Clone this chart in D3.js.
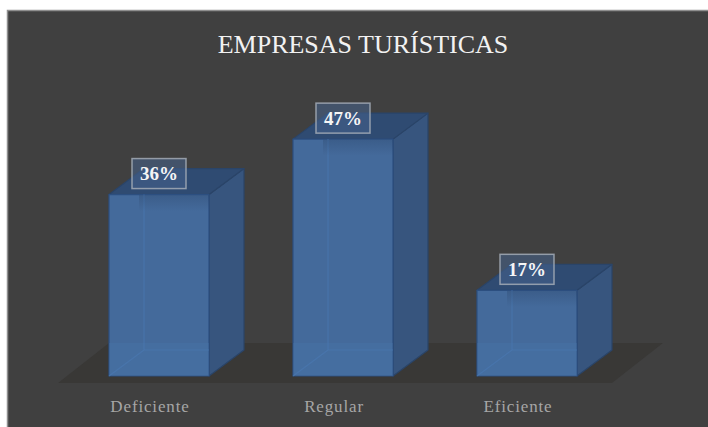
<!DOCTYPE html>
<html>
<head>
<meta charset="utf-8">
<script src="https://cdn.jsdelivr.net/npm/d3@7"></script>
<style>
  html, body { margin: 0; background: #fff; }
  svg { display: block; }
  .x.axis path, .x.axis line { display: none; }
  .x.axis text { font-family: "Liberation Serif", serif; font-size: 17px; fill: #a6a6a6; letter-spacing: .85px; }
</style>
</head>
<body>
<svg class="chart"></svg>
<script>
let categories = ['Deficiente', 'Regular', 'Eficiente'];
let values = [36, 47, 17];
let title = 'EMPRESAS TURÍSTICAS';

let fullWidth = 708, fullHeight = 427;
let base = 376;
let depth = { x: 35, y: -26 };

let x = d3.scaleBand()
    .domain(categories)
    .range([109, 577])
    .paddingInner(.4565)
    .paddingOuter(0);

let y = d3.scaleLinear()
    .domain([0, 50])
    .range([base, base - 252]);

let svg = d3.select('.chart')
    .attr('width', fullWidth)
    .attr('height', fullHeight);

let defs = svg.append('defs');
let shade = defs.append('linearGradient')
    .attr('id', 'labelShade')
    .attr('x1', 0).attr('x2', 0).attr('y1', 0).attr('y2', 1);
shade.append('stop').attr('offset', 0).attr('stop-color', '#1c2f4c').attr('stop-opacity', .22);
shade.append('stop').attr('offset', 1).attr('stop-color', '#1c2f4c').attr('stop-opacity', 0);

// panel
svg.append('rect')
    .attr('x', 7.5).attr('y', 10.5)
    .attr('width', fullWidth).attr('height', fullHeight)
    .attr('fill', '#404040')
    .attr('stroke', '#8f8f8f')
    .attr('stroke-width', 1.5);

// floor
let floorLeft = 58, floorRight = 612, floorBottom = 383, floorTop = 343;
svg.append('polygon')
    .attr('points', [
      [floorLeft, floorBottom],
      [floorLeft + 51, floorTop],
      [floorRight + 51, floorTop],
      [floorRight, floorBottom]
    ].join(' '))
    .attr('fill', '#393836');

svg.append('text')
    .attr('x', 363)
    .attr('y', 52.5)
    .attr('text-anchor', 'middle')
    .style('font-family', '"Liberation Serif", serif')
    .style('font-size', '26px')
    .attr('fill', '#f2f2f2')
    .text(title);

let data = categories.map((c, i) => ({ name: c, value: values[i] }));

function poly(g, pts, fill, stroke, opacity) {
  return g.append('polygon')
      .attr('points', pts.join(' '))
      .attr('fill', fill)
      .attr('fill-opacity', opacity)
      .attr('stroke', stroke)
      .attr('stroke-width', 1.2)
      .attr('stroke-linejoin', 'round');
}

let bars = svg.selectAll('.bar')
    .data(data)
  .enter().append('g')
    .attr('class', 'bar');

bars.each(function(d) {
  let g = d3.select(this);
  let x0 = x(d.name), x1 = x0 + x.bandwidth();
  let top = y(d.value), bot = y(0);
  let dx = depth.x, dy = depth.y;

  // right and top faces
  poly(g, [[x1, bot], [x1 + dx, bot + dy], [x1 + dx, top + dy], [x1, top]], '#37557e', '#2a4468', 1);
  poly(g, [[x0, top], [x1, top], [x1 + dx, top + dy], [x0 + dx, top + dy]], '#2f4b72', '#2a4468', 1);
  // front, with the floor showing through a little at the bottom
  poly(g, [[x0, bot], [x1, bot], [x1, top], [x0, top]], '#446a9b', '#2c4f80', 1);
  g.append('polygon')
      .attr('points', [[x0, bot], [x1, bot], [x1, bot + dy - 7], [x0, bot + dy - 7]].join(' '))
      .attr('fill', '#4a76ab')
      .attr('fill-opacity', .3);
  // hidden edges seen through the front
  g.append('path')
      .attr('d', `M${x0 + dx},${top}V${bot + dy}H${x1} M${x0 + dx},${bot + dy}L${x0},${bot}`)
      .attr('fill', 'none')
      .attr('stroke', '#4a78b0')
      .attr('stroke-opacity', .65)
      .attr('stroke-width', 1.2);
  // darker band under the label box
  g.append('rect')
      .attr('x', x0 + 30).attr('y', top + .6)
      .attr('width', x.bandwidth() - 30).attr('height', 16)
      .attr('fill', 'url(#labelShade)');
});

// value labels
let boxW = 54, boxH = 30;
let labels = svg.selectAll('.label')
    .data(data)
  .enter().append('g')
    .attr('class', 'label')
    .attr('transform', d => `translate(${x(d.name) + 50},${y(d.value) - 21})`);

labels.append('rect')
    .attr('x', -boxW / 2).attr('y', -boxH / 2)
    .attr('width', boxW).attr('height', boxH)
    .attr('fill', '#45628c')
    .attr('fill-opacity', .55)
    .attr('stroke', '#a3abb6')
    .attr('stroke-opacity', .85)
    .attr('stroke-width', 1.5);

labels.append('text')
    .attr('text-anchor', 'middle')
    .attr('y', 6.5)
    .style('font-family', '"Liberation Serif", serif')
    .style('font-size', '19px')
    .style('font-weight', 'bold')
    .attr('fill', '#f5f5f5')
    .text(d => d.value + '%');

// category labels sit a little left of the bar centres
let xAxis = d3.axisBottom(x).tickSize(0).tickPadding(0);
let axisG = svg.append('g')
    .attr('class', 'x axis')
    .attr('transform', 'translate(-9,400)')
    .call(xAxis);
</script>
</body>
</html>
